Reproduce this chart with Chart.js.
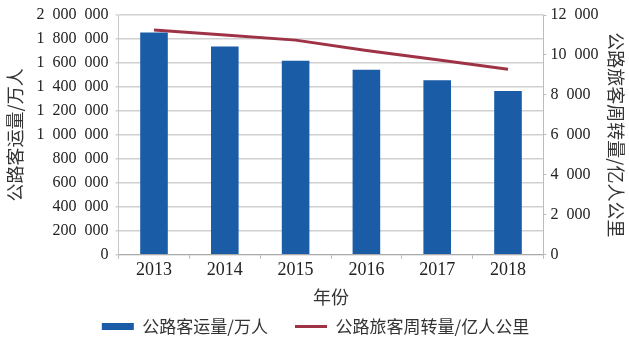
<!DOCTYPE html>
<html>
<head>
<meta charset="utf-8">
<script src="https://cdn.jsdelivr.net/npm/chart.js@4/dist/chart.umd.min.js"></script>
<style>
  html, body { margin: 0; padding: 0; background: #fff; }
  #wrap { width: 629px; height: 353px; }
</style>
</head>
<body>
<div id="wrap"><canvas id="chart" width="629" height="353"></canvas></div>
<script>
// Data
const years = ['2013', '2014', '2015', '2016', '2017', '2018'];
const passengerVolume = [1853463, 1736270, 1619097, 1542759, 1456784, 1367170];   // 万人
const passengerTurnover = [11250.9, 10996.8, 10742.7, 10228.7, 9765.2, 9279.7];  // 亿人公里

const barColor = '#1a5da6';
const lineColor = '#9e3346';
const cjk = '"Noto Sans CJK SC", sans-serif';
const serif = '"Liberation Serif", "DejaVu Serif", serif';

// thousands separated by an en space: 2 000 000
function spaced(v) {
    return String(v).replace(/\B(?=(\d{3})+(?!\d))/g, '\u2002');
}

new Chart(document.getElementById('chart'), {
    data: {
        labels: years,
        datasets: [
            {
                type: 'line',
                label: '公路旅客周转量/亿人公里',
                data: passengerTurnover,
                yAxisID: 'y2',
                borderColor: lineColor,
                backgroundColor: lineColor,
                borderWidth: 3,
                pointRadius: 0,
                pointStyle: 'line',
                tension: 0,
                order: 0
            },
            {
                type: 'bar',
                label: '公路客运量/万人',
                data: passengerVolume,
                yAxisID: 'y',
                backgroundColor: barColor,
                borderWidth: 0,
                pointStyle: 'rect',
                categoryPercentage: 1,
                barPercentage: 0.39,
                order: 1
            }
        ]
    },
    options: {
        responsive: false,
        animation: false,
        layout: { padding: { left: 4, right: 2, top: 0, bottom: 8 } },
        plugins: {
            legend: {
                position: 'bottom',
                reverse: true,
                labels: {
                    usePointStyle: true,
                    pointStyleWidth: 32,
                    boxHeight: 7,
                    padding: 10,
                    color: '#333',
                    font: { family: cjk, size: 17 },
                    // wider gap between the two items
                    generateLabels(chart) {
                        const items = Chart.defaults.plugins.legend.labels.generateLabels(chart);
                        items.forEach(it => { if (it.datasetIndex === 1) it.text += '\u2003'; });
                        return items;
                    }
                }
            },
            tooltip: { enabled: false }
        },
        scales: {
            x: {
                offset: true,
                grid: { display: true, drawOnChartArea: false, tickLength: 4, color: '#bbb', offset: true },
                border: { color: '#aaa' },
                ticks: { color: '#222', font: { family: serif, size: 18 }, padding: 1 },
                title: { display: true, text: '年份', color: '#333', font: { family: cjk, size: 18 }, padding: { top: 4, bottom: 0 } }
            },
            y: {
                position: 'left',
                min: 0,
                max: 2000000,
                ticks: {
                    stepSize: 200000,
                    color: '#222',
                    font: { family: serif, size: 16, lineHeight: 1 },
                    padding: 7,
                    callback: v => spaced(v)
                },
                grid: { color: '#d0d0d0', lineWidth: 1.5, tickLength: 3 },
                border: { color: '#c8c8c8' },
                title: { display: true, text: '公路客运量/万人', color: '#333', font: { family: cjk, size: 18 }, padding: { top: 0, bottom: 4 } }
            },
            y2: {
                position: 'right',
                min: 0,
                max: 12000,
                ticks: {
                    stepSize: 2000,
                    color: '#222',
                    font: { family: serif, size: 16, lineHeight: 1 },
                    padding: 4,
                    callback: v => spaced(v)
                },
                grid: { drawOnChartArea: false, tickLength: 3, color: '#bbb' },
                border: { color: '#bbb' },
                title: { display: true, text: '公路旅客周转量/亿人公里', color: '#333', font: { family: cjk, size: 18 }, padding: { top: 0, bottom: 3 } }
            }
        }
    }
});
</script>
</body>
</html>
